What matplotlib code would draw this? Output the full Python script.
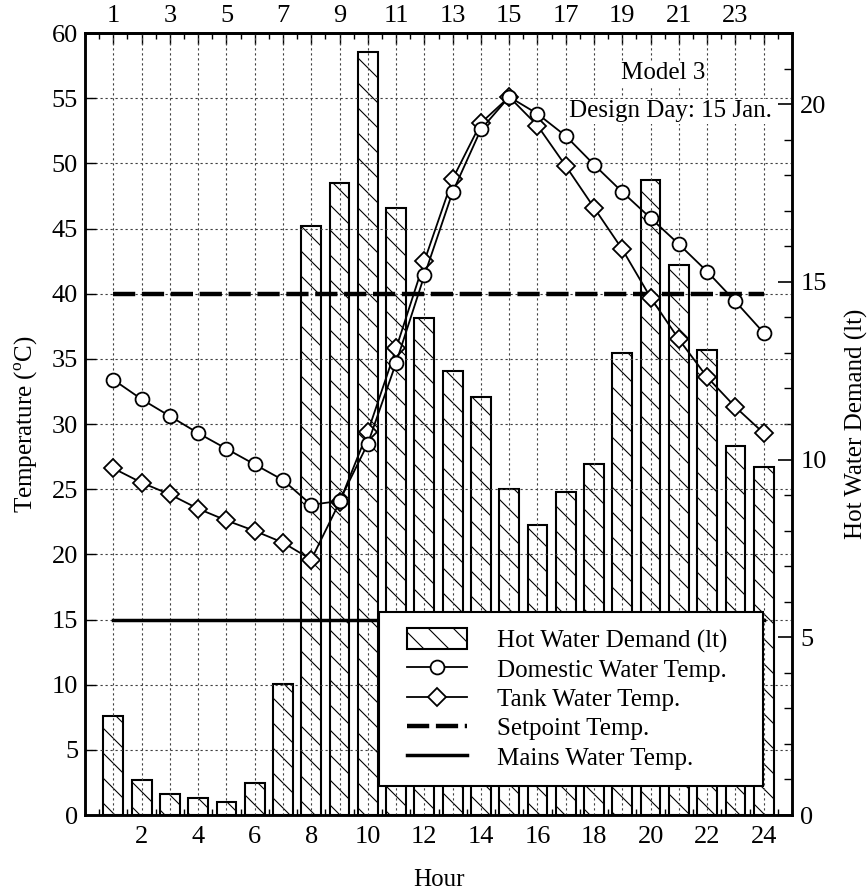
import matplotlib
matplotlib.use("Agg")
import matplotlib.pyplot as plt
import matplotlib.backend_bases as backend_bases
import numpy as np
from matplotlib.ticker import FixedLocator, MultipleLocator
from matplotlib.patches import Patch
from matplotlib.lines import Line2D
from matplotlib.legend_handler import HandlerPatch, HandlerLine2D

# ----------------------------------------------------
# Data
# ----------------------------------------------------

hours = np.arange(1, 25)

demand_lt = [2.78, 0.98, 0.59, 0.49, 0.38, 0.89, 3.68, 16.58, 17.77, 21.46,
             17.07, 13.97, 12.48, 11.77, 9.18, 8.17, 9.08, 9.88, 12.99, 17.87,
             15.47, 13.08, 10.37, 9.78]

domestic_temp = [33.4, 31.9, 30.6, 29.3, 28.1, 26.9, 25.7, 23.8, 24.1, 28.5,
                 34.7, 41.4, 47.8, 52.6, 55.1, 53.8, 52.1, 49.9, 47.8, 45.8,
                 43.8, 41.7, 39.4, 37.0]

tank_temp = [26.6, 25.5, 24.6, 23.5, 22.6, 21.8, 20.9, 19.6, 24.0, 29.4,
             35.8, 42.5, 48.8, 53.1, 55.1, 52.9, 49.8, 46.6, 43.4, 39.7,
             36.5, 33.6, 31.3, 29.3]

setpoint_temp = 40
mains_temp = 15

bottom_labels = [str(h) if h % 2 == 0 else "" for h in hours]
top_labels = [str(h) if h % 2 == 1 else "" for h in hours]

# ----------------------------------------------------
# Style
# ----------------------------------------------------

plt.rcParams["font.family"] = ["Liberation Serif", "DejaVu Serif"]
plt.rcParams["font.size"] = 18
plt.rcParams["mathtext.fontset"] = "custom"
plt.rcParams["mathtext.rm"] = "Liberation Serif"
plt.rcParams["hatch.linewidth"] = 0.8
plt.rcParams["xtick.direction"] = "in"
plt.rcParams["ytick.direction"] = "in"

# slightly sparser hatching than the default "\\\\" gives
_hatch_path = backend_bases.GraphicsContextBase.get_hatch_path


def sparse_hatch_path(self, density=8.0):
    return _hatch_path(self, density)


backend_bases.GraphicsContextBase.get_hatch_path = sparse_hatch_path

HATCH = "\\"
SET_DASH = (0, (5, 1.5))

fig = plt.figure(figsize=(8.68, 8.92), dpi=100)

# bars live on the lower axes (right-hand scale), temperatures on the twin
ax_d = fig.add_axes([0.098, 0.0863, 0.8144, 0.8767])
ax_t = ax_d.twinx()

# -----------------------
# Hot water demand bars
# -----------------------

ax_d.bar(hours, demand_lt, width=0.7, facecolor="white", edgecolor="black",
         linewidth=1.5, hatch=HATCH, zorder=2)

ax_d.set_ylim(0, 22)
ax_d.set_xlim(0, 25)
ax_d.yaxis.tick_right()
ax_d.yaxis.set_major_locator(FixedLocator([0, 5, 10, 15, 20]))
ax_d.yaxis.set_minor_locator(MultipleLocator(1))
ax_d.tick_params(axis="y", which="major", length=10, width=1.2, right=True,
                 left=False, pad=6, labelsize=19)
ax_d.tick_params(axis="y", which="minor", length=6, width=1.0, right=True,
                 left=False)
ax_d.set_ylabel("Hot Water Demand (lt)")
ax_d.yaxis.set_label_position("right")
ax_d.yaxis.set_label_coords(1.075, 0.5)

ax_d.set_xticks(hours)
ax_d.set_xticklabels(bottom_labels)
ax_d.xaxis.set_minor_locator(MultipleLocator(0.5))
ax_d.tick_params(axis="x", which="major", length=7, width=1.0, pad=8,
                 labelsize=19)
ax_d.tick_params(axis="x", which="minor", length=4, width=1.0)
ax_d.set_xlabel("Hour")
ax_d.xaxis.set_label_coords(0.5, -0.069)

# -----------------------
# Temperatures
# -----------------------

ax_t.set_ylim(0, 60)
ax_t.yaxis.tick_left()
ax_t.set_yticks(np.arange(0, 61, 5))
ax_t.tick_params(axis="y", length=8, width=1.0, left=True, right=False, pad=5,
                 labelsize=19)
ax_t.set_ylabel("Temperature ($^{\\rm o}$C)")
ax_t.yaxis.set_label_position("left")
ax_t.yaxis.set_label_coords(-0.064, 0.5)

# twinx hides the x axis; switch it back on for the vertical grid only
ax_t.xaxis.set_visible(True)
ax_t.set_xticks(hours)
ax_t.tick_params(axis="x", which="both", bottom=False, top=False,
                 labelbottom=False, labeltop=False)
ax_t.grid(axis="both", linestyle=(0, (2, 2.5)), color="0.25",
          linewidth=0.8)

ax_t.plot([hours[0], hours[-1]], [setpoint_temp, setpoint_temp], color="black",
          linewidth=3.2, linestyle=SET_DASH, zorder=3)
ax_t.plot([hours[0], hours[-1]], [mains_temp, mains_temp], color="black",
          linewidth=2.5, zorder=3)

ax_t.plot(hours, tank_temp, color="black", linewidth=1.3, marker="D",
          markersize=9, markerfacecolor="white", markeredgecolor="black",
          markeredgewidth=1.3, zorder=4)
ax_t.plot(hours, domestic_temp, color="black", linewidth=1.3, marker="o",
          markersize=10, markerfacecolor="white", markeredgecolor="black",
          markeredgewidth=1.3, zorder=5)

# top axis with odd hour labels
top = ax_t.secondary_xaxis("top")
top.set_xticks(hours)
top.set_xticklabels(top_labels)
top.xaxis.set_minor_locator(MultipleLocator(0.5))
top.tick_params(axis="x", which="major", length=8, width=1.0, pad=4,
                labelsize=19)
top.tick_params(axis="x", which="minor", length=4, width=1.0)

for a in (ax_d, ax_t, top):
    for s in a.spines.values():
        s.set_linewidth(1.8)

# -----------------------
# Annotations
# -----------------------

box = dict(facecolor="white", edgecolor="none", pad=1)
ax_t.text(20.45, 56.9, "Model 3", ha="center", va="center", bbox=box,
          zorder=6)
ax_t.text(20.7, 54.0, "Design Day: 15 Jan.", ha="center", va="center",
          bbox=box, zorder=6)

# -----------------------
# Legend
# -----------------------

handles = [
    Patch(facecolor="white", edgecolor="black", linewidth=1.5, hatch=HATCH),
    Line2D([], [], color="black", linewidth=1.3, marker="o", markersize=10,
           markerfacecolor="white", markeredgewidth=1.3),
    Line2D([], [], color="black", linewidth=1.3, marker="D", markersize=9,
           markerfacecolor="white", markeredgewidth=1.3),
    Line2D([], [], color="black", linewidth=3.2, linestyle=SET_DASH),
    Line2D([], [], color="black", linewidth=2.5),
]
labels = ["Hot Water Demand (lt)", "Domestic Water Temp.", "Tank Water Temp.",
          "Setpoint Temp.", "Mains Water Temp."]

leg = ax_t.legend(handles, labels, loc="lower left",
                  bbox_to_anchor=(0.416, 0.037, 0.543, 0.223), mode="expand",
                  borderaxespad=0, fancybox=False, framealpha=1,
                  edgecolor="black", handlelength=2.85, handletextpad=1.2,
                  labelspacing=0.21, borderpad=0.66, handleheight=0.9,
                  handler_map={Patch: HandlerPatch(xpad=0.45),
                               Line2D: HandlerLine2D(xpad=0.45)})
leg.get_frame().set_linewidth(1.5)
leg.set_zorder(10)

fig.savefig("out.png", dpi=100)
